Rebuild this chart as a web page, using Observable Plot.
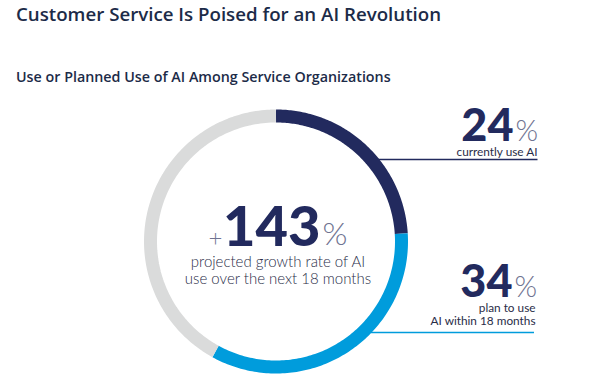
<!DOCTYPE html>
<html>
<head>
<meta charset="utf-8">
<script src="https://cdn.jsdelivr.net/npm/d3@7"></script>
<script src="https://cdn.jsdelivr.net/npm/@observablehq/plot@0.6"></script>
<style>
  html, body { margin: 0; padding: 0; background: #fff; width: 600px; height: 383px; overflow: hidden; }
  #title { position: absolute; left: 16px; top: 1px; font-family: "Open Sans", sans-serif; font-weight: 600; font-size: 18.7px; color: #1c2b48; white-space: nowrap; }
  #subtitle { position: absolute; left: 16px; top: 67px; font-family: "Open Sans", sans-serif; font-weight: 600; font-size: 14.3px; color: #1c2b48; white-space: nowrap; }
  #chart { position: absolute; left: 0; top: 93px; }
</style>
</head>
<body>
<div id="title">Customer Service Is Poised for an AI Revolution</div>
<div id="subtitle">Use or Planned Use of AI Among Service Organizations</div>
<div id="chart"></div>
<script>
// ---- data ----
const segments = ["currently use AI", "plan to use AI within 18 months", "no plans"];
const shares = [24, 34, 42];
const segmentColors = ["#222a5e", "#009cdc", "#dadbdb"];
const statValues = ["24", "34"];
const statCaptions = [["currently use AI"], ["plan to use", "AI within 18 months"]];
const growthValue = ["143"];
const growthCaption = ["projected growth rate of AI", "use over the next 18 months"];

// ---- layout (pixel offsets from ring center) ----
const W = 600, H = 290;
const cx = 275.5, cy = 148;
const R = 125.5, ringWidth = 13;

const pie = d3.pie().sort(null).value(d => d)(shares);
const ringPts = pie.flatMap((p, i) => d3.range(0, 121).map(k => {
  const a = p.startAngle + (p.endAngle - p.startAngle) * k / 120;
  return {seg: segments[i], x: R * Math.sin(a), y: R * Math.cos(a)};
}));

const statRows = [
  {value: statValues[0], x: 237.5, y: 101, color: segmentColors[0], lineY: 82, lineX2: 261.5},
  {value: statValues[1], x: 236.5, y: -55, color: segmentColors[1], lineY: -91, lineX2: 258}
];
const captionRows = [
  {text: statCaptions[0][0], x: 261.5, y: 86},
  {text: statCaptions[1][0], x: 259.5, y: -70.5},
  {text: statCaptions[1][1], x: 259.5, y: -83.5}
];
const leaderLines = statRows.map(d => ({x1: 95, x2: d.lineX2, y: d.lineY, color: d.color}));

const numFont = "Lato, 'Open Sans', sans-serif";
const txtColor = "#2a2d48";

const chart = Plot.plot({
  width: W, height: H, margin: 0,
  x: {domain: [-cx, W - cx], axis: null},
  y: {domain: [-(H - cy), cy], axis: null},
  color: {domain: segments, range: segmentColors},
  marks: [
    Plot.link(leaderLines, {x1: "x1", x2: "x2", y1: "y", y2: "y", stroke: "color", strokeWidth: 1.5}),
    Plot.line(ringPts, {x: "x", y: "y", z: "seg", stroke: "seg", strokeWidth: ringWidth, strokeLinecap: "butt", strokeLinejoin: "round"}),
    // side stats
    Plot.text(statRows, {x: "x", y: "y", text: "value", textAnchor: "end", lineAnchor: "bottom", fontSize: 45, fontWeight: 900, fontFamily: numFont, fill: "#222a5e"}),
    Plot.text(statRows, {x: d => d.x + 2, y: "y", text: () => "%", textAnchor: "start", lineAnchor: "bottom", fontSize: 29, fontWeight: 300, fontFamily: numFont, fill: "#6f7391"}),
    Plot.text(captionRows, {x: "x", y: "y", text: "text", textAnchor: "end", lineAnchor: "bottom", fontSize: 11.8, fontFamily: numFont, fill: txtColor}),
    // center
    Plot.text(growthValue, {x: 44.5, y: -4, text: d => d, textAnchor: "end", lineAnchor: "bottom", fontSize: 56, fontWeight: 900, fontFamily: numFont, fill: "#222a5e"}),
    Plot.text(["+"], {x: -53.5, y: -4, text: d => d, textAnchor: "end", lineAnchor: "bottom", fontSize: 24, fontWeight: 300, fontFamily: numFont, fill: "#6f7391"}),
    Plot.text(["%"], {x: 46.5, y: -3, text: d => d, textAnchor: "start", lineAnchor: "bottom", fontSize: 32, fontWeight: 300, fontFamily: numFont, fill: "#6f7391"}),
    Plot.text(growthCaption, {x: 2, y: (d, i) => -25 - 17 * i, text: d => d, textAnchor: "middle", lineAnchor: "bottom", fontSize: 15, fontWeight: 300, fontFamily: numFont, fill: txtColor})
  ]
});
document.getElementById("chart").appendChild(chart);
</script>
</body>
</html>
